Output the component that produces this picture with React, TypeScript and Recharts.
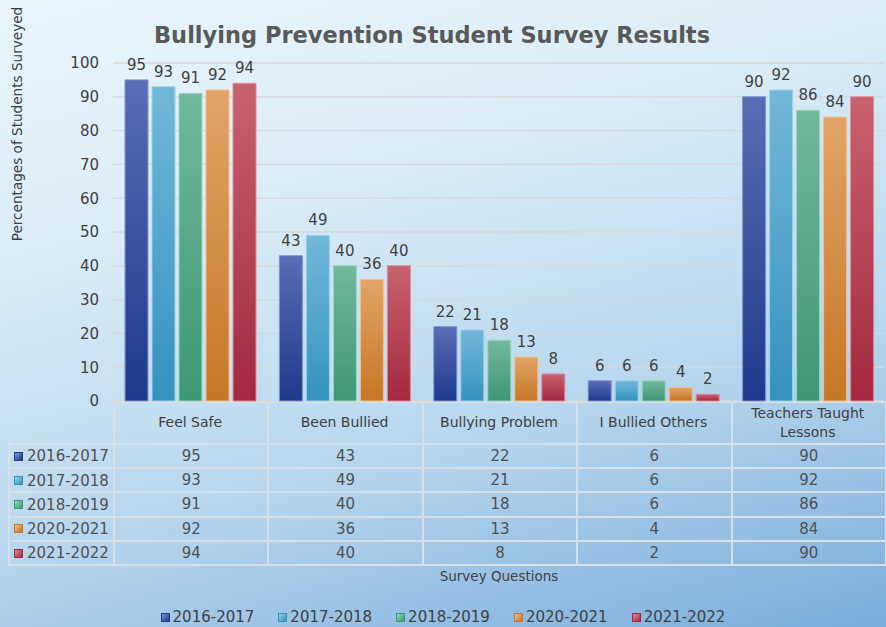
import React from 'react';
import { BarChart, Bar, XAxis, YAxis, CartesianGrid, LabelList, Legend } from 'recharts';

const categories = ['Feel Safe', 'Been Bullied', 'Bullying Problem', 'I Bullied Others', 'Teachers Taught Lessons'];
const seriesNames = ['2016-2017', '2017-2018', '2018-2019', '2020-2021', '2021-2022'];
const values2016 = [95, 43, 22, 6, 90];
const values2017 = [93, 49, 21, 6, 92];
const values2018 = [91, 40, 18, 6, 86];
const values2020 = [92, 36, 13, 4, 84];
const values2021 = [94, 40, 8, 2, 90];
const yTicks = [0, 10, 20, 30, 40, 50, 60, 70, 80, 90, 100];

const seriesValues = [values2016, values2017, values2018, values2020, values2021];

const data = categories.map((c, i) => {
  const row: any = { category: c };
  seriesNames.forEach((s, j) => {
    row[s] = seriesValues[j][i];
  });
  return row;
});

const palette = [
  { top: '#5a6cb4', bottom: '#1d3a8c', stroke: '#8092d4', icon: '#2c4799' },
  { top: '#72b8da', bottom: '#3592be', stroke: '#9ad2ee', icon: '#4aa5cf' },
  { top: '#72b99c', bottom: '#3c9774', stroke: '#9ad6bc', icon: '#52a886' },
  { top: '#e2a466', bottom: '#c67726', stroke: '#f3c089', icon: '#d98a3a' },
  { top: '#c8626f', bottom: '#a3283f', stroke: '#e2899a', icon: '#b94054' },
];

const FONT = '"DejaVu Sans", Verdana, sans-serif';
const TEXT = '#404040';

const W = 886;
const H = 627;
const PLOT_LEFT = 113;
const PLOT_RIGHT = 885;
const PLOT_TOP = 63;
const PLOT_BOTTOM = 401;
const AXIS_H = 42;
const ROW_H = 24.2;
const COL_W = (PLOT_RIGHT - PLOT_LEFT) / categories.length;

function wrapWords(label: string, maxChars: number): string[] {
  const words = label.split(' ');
  const lines: string[] = [];
  let cur = '';
  words.forEach((w) => {
    const next = cur ? cur + ' ' + w : w;
    if (next.length > maxChars && cur) {
      lines.push(cur);
      cur = w;
    } else {
      cur = next;
    }
  });
  if (cur) lines.push(cur);
  return lines;
}

const CategoryTick = (props: any) => {
  const { x, payload } = props;
  const lines = wrapWords(String(payload.value), 18);
  const lineH = 19;
  const centerY = PLOT_BOTTOM + AXIS_H / 2;
  const firstBaseline = centerY - ((lines.length - 1) * lineH) / 2 + 5;
  return (
    <text x={x} y={firstBaseline} textAnchor="middle" fontSize={14} fill={TEXT} fontFamily={FONT}>
      {lines.map((l, i) => (
        <tspan key={i} x={x} dy={i === 0 ? 0 : lineH}>
          {l}
        </tspan>
      ))}
    </text>
  );
};

const LegendIcon = ({ i }: { i: number }) => (
  <span
    style={{
      display: 'inline-block',
      width: 9,
      height: 9,
      background: `linear-gradient(135deg, ${palette[i].stroke}, ${palette[i].bottom})`,
      border: `1px solid ${palette[i].bottom}`,
      boxSizing: 'border-box',
      marginRight: 3,
    }}
  />
);

const LegendContent = () => (
  <div
    style={{
      display: 'flex',
      justifyContent: 'center',
      alignItems: 'center',
      fontFamily: FONT,
      fontSize: 15,
      color: TEXT,
    }}
  >
    {seriesNames.map((s, i) => (
      <div key={s} style={{ display: 'flex', alignItems: 'center', marginRight: i < seriesNames.length - 1 ? 24 : 0 }}>
        <LegendIcon i={i} />
        <span>{s}</span>
      </div>
    ))}
  </div>
);

const cellBorder = '2px solid #d8e0e7';

export default function App() {
  return (
    <div
      style={{
        position: 'absolute',
        left: 0,
        top: 0,
        width: W,
        height: H,
        overflow: 'hidden',
        background: 'linear-gradient(165deg, #e9f5fb 0%, #dbedf7 30%, #b7d6ee 65%, #79addc 100%)',
        fontFamily: FONT,
      }}
    >
      {/* Data table */}
      <table
        style={{
          position: 'absolute',
          left: 8,
          top: PLOT_BOTTOM,
          borderCollapse: 'collapse',
          tableLayout: 'fixed',
          width: PLOT_RIGHT - 8,
          fontFamily: FONT,
          fontSize: 15,
          color: '#505050',
        }}
      >
        <colgroup>
          <col style={{ width: PLOT_LEFT - 8 }} />
          {categories.map((c) => (
            <col key={c} style={{ width: COL_W }} />
          ))}
        </colgroup>
        <tbody>
          <tr style={{ height: AXIS_H }}>
            <td style={{ border: 'none', padding: 0 }} />
            {categories.map((c) => (
              <td key={c} style={{ border: cellBorder, padding: 0 }} />
            ))}
          </tr>
          {seriesNames.map((s, j) => (
            <tr key={s} style={{ height: ROW_H }}>
              <td style={{ border: cellBorder, padding: '0 0 0 4px', whiteSpace: 'nowrap' }}>
                <span style={{ display: 'inline-flex', alignItems: 'center' }}>
                  <LegendIcon i={j} />
                  <span style={{ marginLeft: 1 }}>{s}</span>
                </span>
              </td>
              {categories.map((c, i) => (
                <td key={c} style={{ border: cellBorder, padding: 0, textAlign: 'center' }}>
                  {seriesValues[j][i]}
                </td>
              ))}
            </tr>
          ))}
        </tbody>
      </table>

      {/* Title */}
      <div
        style={{
          position: 'absolute',
          left: 0,
          width: 864,
          top: 20,
          textAlign: 'center',
          fontFamily: FONT,
          fontWeight: 'bold',
          fontSize: 22.5,
          color: '#595959',
          lineHeight: '30px',
        }}
      >
        Bullying Prevention Student Survey Results
      </div>

      {/* Y axis title */}
      <div
        style={{
          position: 'absolute',
          left: 17,
          top: 124,
          transform: 'translate(-50%, -50%) rotate(-90deg)',
          whiteSpace: 'nowrap',
          fontSize: 13.6,
          color: TEXT,
        }}
      >
        Percentages of Students Surveyed
      </div>

      {/* X axis title */}
      <div
        style={{
          position: 'absolute',
          left: PLOT_LEFT,
          width: PLOT_RIGHT - PLOT_LEFT,
          top: 568,
          textAlign: 'center',
          fontSize: 13.5,
          color: TEXT,
        }}
      >
        Survey Questions
      </div>

      <div style={{ position: 'absolute', left: 0, top: 0 }}>
        <BarChart
          width={W}
          height={H}
          data={data}
          margin={{ top: PLOT_TOP, right: W - PLOT_RIGHT, bottom: H - PLOT_BOTTOM - AXIS_H, left: 0 }}
          barCategoryGap={12}
          barGap={4}
        >
          <defs>
            {palette.map((p, i) => (
              <linearGradient key={i} id={`barGrad${i}`} x1="0" y1="0" x2="0" y2="1">
                <stop offset="0%" stopColor={p.top} />
                <stop offset="100%" stopColor={p.bottom} />
              </linearGradient>
            ))}
          </defs>
          <CartesianGrid vertical={false} stroke="#d3d8dd" strokeWidth={1.3} />
          <XAxis
            dataKey="category"
            height={AXIS_H}
            axisLine={false}
            tickLine={false}
            tickSize={0}
            tickMargin={0}
            interval={0}
            tick={<CategoryTick />}
          />
          <YAxis
            width={PLOT_LEFT}
            domain={[0, 100]}
            ticks={yTicks}
            axisLine={false}
            tickLine={false}
            tickMargin={8}
            tick={{ fontSize: 15, fill: TEXT, fontFamily: FONT }}
          />
          {seriesNames.map((s, i) => (
            <Bar
              key={s}
              dataKey={s}
              fill={`url(#barGrad${i})`}
              stroke={palette[i].stroke}
              strokeWidth={1}
              isAnimationActive={false}
            >
              <LabelList dataKey={s} position="top" offset={10} fill={TEXT} fontSize={15} fontFamily={FONT} />
            </Bar>
          ))}
          <Legend
            layout="horizontal"
            verticalAlign="middle"
            align="center"
            content={<LegendContent />}
            wrapperStyle={{ top: 608, left: 0, width: W, height: 20 }}
          />
        </BarChart>
      </div>
    </div>
  );
}
